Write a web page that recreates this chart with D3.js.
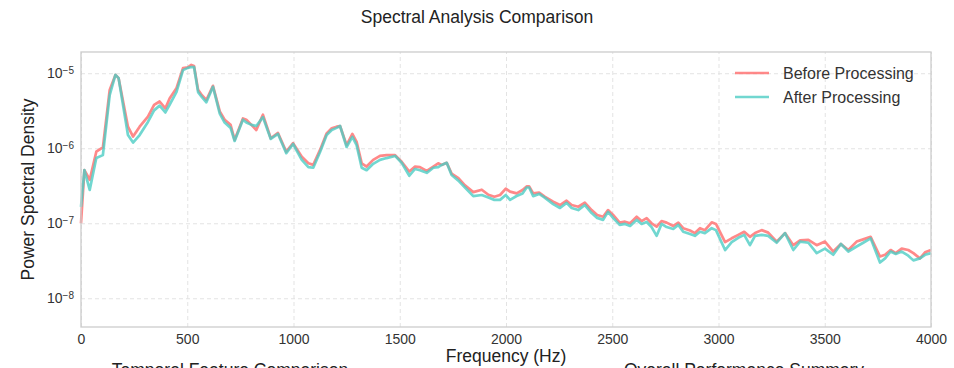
<!DOCTYPE html>
<html>
<head>
<meta charset="utf-8">
<script src="https://cdn.jsdelivr.net/npm/d3@7"></script>
<style>
  body { margin: 0; background: #fff; }
  text { font-family: "Liberation Sans", Arial, sans-serif; }
</style>
</head>
<body>
<div id="chart"></div>
<script>
const freqs = [0, 16, 41, 72, 103, 135, 162, 177, 221, 245, 276, 315, 344, 370, 397, 417, 449, 480, 503, 519, 532,
  551, 569, 590, 621, 653, 676, 704, 723, 762, 778, 802, 825, 856, 893, 927, 966, 998, 1039, 1070, 1093,
  1125, 1156, 1180, 1203, 1219, 1250, 1277, 1297, 1321, 1344, 1375, 1407, 1438, 1478, 1509, 1545, 1572, 1595,
  1627, 1658, 1681, 1697, 1721, 1744, 1776, 1807, 1846, 1886, 1917, 1945, 1972, 1999, 2019, 2050, 2078, 2097,
  2109, 2128, 2156, 2182, 2222, 2254, 2285, 2309, 2340, 2371, 2403, 2429, 2457, 2480, 2504, 2535, 2560, 2584,
  2615, 2638, 2662, 2685, 2709, 2732, 2756, 2787, 2811, 2834, 2866, 2889, 2913, 2936, 2968, 2988, 3031, 3062,
  3093, 3121, 3148, 3172, 3203, 3234, 3274, 3313, 3352, 3384, 3423, 3462, 3501, 3540, 3576, 3611, 3650, 3681,
  3716, 3760, 3784, 3810, 3834, 3862, 3893, 3917, 3948, 3972, 4000];

const psdBefore = [1.0e-7, 5.1e-7, 3.8e-7, 9.0e-7, 1.03e-6, 6.0e-6, 9.5e-6, 8.6e-6, 1.94e-6, 1.43e-6, 1.94e-6, 2.64e-6, 3.78e-6, 4.2e-6, 3.4e-6, 4.6e-6, 6.3e-6, 1.17e-5, 1.2e-5, 1.29e-5, 1.25e-5,
  6.0e-6, 5.1e-6, 4.4e-6, 6.8e-6, 3.1e-6, 2.4e-6, 2.05e-6, 1.29e-6, 2.5e-6, 2.4e-6, 2.05e-6, 1.75e-6, 2.8e-6, 1.36e-6, 1.6e-6, 9.0e-7, 1.17e-6, 7.7e-7, 6.3e-7, 6.0e-7,
  9.5e-7, 1.58e-6, 1.85e-6, 1.94e-6, 1.98e-6, 1.1e-6, 1.55e-6, 1.22e-6, 6.3e-7, 5.7e-7, 7.0e-7, 7.9e-7, 8.1e-7, 8.1e-7, 6.6e-7, 4.9e-7, 5.7e-7, 5.6e-7,
  5.0e-7, 5.7e-7, 6.3e-7, 6.0e-7, 6.4e-7, 4.6e-7, 4.0e-7, 3.2e-7, 2.6e-7, 2.8e-7, 2.4e-7, 2.26e-7, 2.38e-7, 2.9e-7, 2.64e-7, 2.5e-7, 2.78e-7, 3.1e-7,
  3.1e-7, 2.5e-7, 2.56e-7, 2.26e-7, 1.94e-7, 1.75e-7, 2.0e-7, 1.75e-7, 1.66e-7, 1.88e-7, 1.5e-7, 1.29e-7, 1.22e-7, 1.5e-7, 1.29e-7, 1.02e-7, 1.05e-7, 1.0e-7,
  1.22e-7, 1.07e-7, 1.17e-7, 1.0e-7, 9.0e-8, 1.07e-7, 1.02e-7, 9.2e-8, 1.02e-7, 8.6e-8, 8.0e-8, 7.4e-8, 8.6e-8, 8.1e-8, 1.03e-7, 9.8e-8, 5.6e-8, 6.3e-8,
  7.0e-8, 7.7e-8, 6.6e-8, 7.4e-8, 8.1e-8, 7.5e-8, 5.7e-8, 7.4e-8, 5.1e-8, 5.9e-8, 6.0e-8, 5.1e-8, 5.7e-8, 4.2e-8, 5.3e-8, 4.4e-8, 5.7e-8, 6.1e-8,
  6.6e-8, 3.6e-8, 3.8e-8, 4.4e-8, 4.0e-8, 4.6e-8, 4.4e-8, 4.0e-8, 3.4e-8, 4.1e-8, 4.4e-8];

const psdAfter = [1.65e-7, 5.1e-7, 2.78e-7, 7.4e-7, 8.1e-7, 5.1e-6, 9.5e-6, 8.6e-6, 1.5e-6, 1.19e-6, 1.5e-6, 2.24e-6, 3.2e-6, 3.7e-6, 3.0e-6, 3.8e-6, 5.6e-6, 1.1e-5, 1.18e-5, 1.21e-5, 1.21e-5,
  5.6e-6, 4.8e-6, 4.1e-6, 6.6e-6, 2.9e-6, 2.2e-6, 1.87e-6, 1.25e-6, 2.4e-6, 2.2e-6, 2.05e-6, 1.98e-6, 2.6e-6, 1.33e-6, 1.55e-6, 8.6e-7, 1.14e-6, 7.0e-7, 5.6e-7, 5.5e-7,
  8.9e-7, 1.5e-6, 1.75e-6, 1.87e-6, 1.98e-6, 1.04e-6, 1.42e-6, 1.1e-6, 5.5e-7, 5.1e-7, 6.2e-7, 7.0e-7, 7.4e-7, 7.9e-7, 6.4e-7, 4.3e-7, 5.3e-7, 5.1e-7,
  4.7e-7, 5.5e-7, 5.6e-7, 6.0e-7, 6.4e-7, 4.4e-7, 3.7e-7, 3.0e-7, 2.3e-7, 2.38e-7, 2.2e-7, 2.05e-7, 2.05e-7, 2.38e-7, 2.05e-7, 2.31e-7, 2.5e-7, 3.0e-7,
  3.0e-7, 2.3e-7, 2.46e-7, 2.2e-7, 1.8e-7, 1.6e-7, 1.87e-7, 1.6e-7, 1.5e-7, 1.75e-7, 1.37e-7, 1.18e-7, 1.11e-7, 1.42e-7, 1.18e-7, 9.5e-8, 9.8e-8, 9.2e-8,
  1.11e-7, 9.8e-8, 1.04e-7, 8.9e-8, 6.8e-8, 9.8e-8, 8.9e-8, 8.4e-8, 9.5e-8, 7.7e-8, 7.2e-8, 6.8e-8, 7.7e-8, 7.4e-8, 8.6e-8, 8.1e-8, 4.4e-8, 5.6e-8,
  6.4e-8, 7.0e-8, 5.1e-8, 6.8e-8, 7.0e-8, 6.8e-8, 5.5e-8, 7.4e-8, 4.4e-8, 5.7e-8, 5.5e-8, 4.0e-8, 4.6e-8, 3.8e-8, 5.3e-8, 4.2e-8, 4.9e-8, 5.5e-8,
  6.3e-8, 3.0e-8, 3.4e-8, 4.2e-8, 3.9e-8, 4.2e-8, 3.7e-8, 3.2e-8, 3.4e-8, 3.8e-8, 4.0e-8];

const seriesNames = ["Before Processing", "After Processing"];
const seriesColors = ["#FF6B6B", "#4ECDC4"];
const xTicks = [0, 500, 1000, 1500, 2000, 2500, 3000, 3500, 4000];
const yTicks = [1e-8, 1e-7, 1e-6, 1e-5];
const lowerTitles = ["Temporal Feature Comparison", "Overall Performance Summary"];

// layout
const W = 954, H = 368;
const margin = { top: 52, right: 23, bottom: 41, left: 81 };
const width = W - margin.left - margin.right,
  height = H - margin.top - margin.bottom;

const svg = d3.select("#chart").append("svg")
  .attr("width", W)
  .attr("height", H);

svg.append("text")
  .attr("x", W / 2)
  .attr("y", 23)
  .attr("text-anchor", "middle")
  .style("font-size", "17.5px")
  .style("fill", "#222")
  .text("Spectral Analysis Comparison");

const g = svg.append("g")
  .attr("transform", "translate(" + margin.left + "," + margin.top + ")");

const x = d3.scaleLinear().domain([0, 4000]).range([0, width]);
const y = d3.scaleLog().domain([4.14e-9, 1.92e-5]).range([height, 0]);

// grid
g.append("g")
  .attr("class", "grid")
  .attr("transform", "translate(0," + height + ")")
  .call(d3.axisBottom(x).tickValues(xTicks).tickSize(-height).tickFormat(""));
g.append("g")
  .attr("class", "grid")
  .call(d3.axisLeft(y).tickValues(yTicks).tickSize(-width).tickFormat(""));
g.selectAll(".grid .domain").remove();
g.selectAll(".grid line")
  .attr("stroke", "#e3e3e3")
  .attr("stroke-width", 1)
  .attr("stroke-dasharray", "4,3");

// lines
const line = d3.line()
  .x((d, i) => x(freqs[i]))
  .y(d => y(d));

[psdBefore, psdAfter].forEach((vals, k) => {
  g.append("path")
    .datum(vals)
    .attr("fill", "none")
    .attr("stroke", seriesColors[k])
    .attr("stroke-opacity", 0.8)
    .attr("stroke-width", 2.7)
    .attr("stroke-linejoin", "round")
    .attr("d", line);
});

// frame
g.append("rect")
  .attr("width", width)
  .attr("height", height)
  .attr("fill", "none")
  .attr("stroke", "#cccccc")
  .attr("stroke-width", 1.3);

// axes
const xAxis = g.append("g")
  .attr("transform", "translate(0," + height + ")")
  .call(d3.axisBottom(x).tickValues(xTicks).tickSize(0).tickPadding(7).tickFormat(d3.format("d")));
const yAxis = g.append("g")
  .call(d3.axisLeft(y).tickValues(yTicks).tickSize(0).tickPadding(7).tickFormat(""));
xAxis.select(".domain").remove();
yAxis.select(".domain").remove();
xAxis.selectAll("text").style("font-size", "14px").style("fill", "#333")
  .style("font-family", "'Liberation Sans', Arial, sans-serif");

yAxis.selectAll(".tick text")
  .style("font-size", "14px").style("fill", "#333")
  .style("font-family", "'Liberation Sans', Arial, sans-serif")
  .each(function(d) {
    const t = d3.select(this);
    t.append("tspan").text("10");
    t.append("tspan")
      .attr("dy", "-0.45em")
      .style("font-size", "10px")
      .text("\u2212" + Math.round(-Math.log10(d)));
  });

g.append("text")
  .attr("x", width / 2)
  .attr("y", height + 35)
  .attr("text-anchor", "middle")
  .style("font-size", "17.5px")
  .style("fill", "#222")
  .text("Frequency (Hz)");

g.append("text")
  .attr("transform", "translate(" + (-47) + "," + (height / 2) + ") rotate(-90)")
  .attr("text-anchor", "middle")
  .style("font-size", "17.5px")
  .style("fill", "#222")
  .text("Power Spectral Density");

// legend
const legend = g.append("g")
  .attr("transform", "translate(" + (width - 196) + ",21)");
seriesNames.forEach((name, k) => {
  const row = legend.append("g").attr("transform", "translate(0," + (k * 24) + ")");
  row.append("line")
    .attr("x1", 0).attr("x2", 34)
    .attr("stroke", seriesColors[k])
    .attr("stroke-opacity", 0.8)
    .attr("stroke-width", 2.7);
  row.append("text")
    .attr("x", 48)
    .attr("dy", "0.35em")
    .style("font-size", "16px")
    .style("fill", "#333")
    .text(name);
});

// titles of the next row of panels, cut by the page edge as in the original
const lowerX = [230, 744];
lowerTitles.forEach((t, i) => {
  svg.append("text")
    .attr("x", lowerX[i])
    .attr("y", 376)
    .attr("text-anchor", "middle")
    .style("font-size", "17.5px")
    .style("fill", "#222")
    .text(t);
});
</script>
</body>
</html>
